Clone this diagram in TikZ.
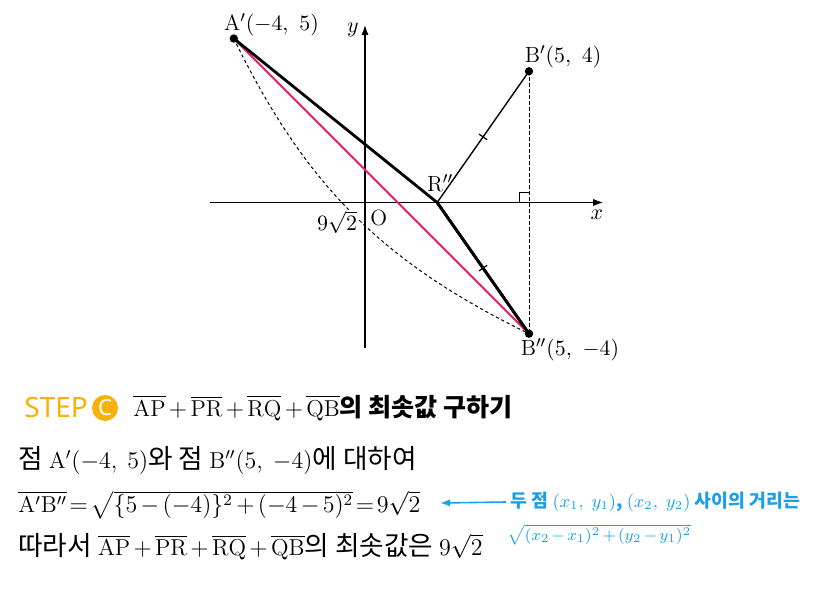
\documentclass[tikz,border=0pt]{standalone}
\usepackage{fontspec}
\usepackage{amsmath}
\usepackage{amssymb}
\usepackage{tikz}
\usetikzlibrary{calc}
\usetikzlibrary{positioning}
\usetikzlibrary{arrows.meta}
\newfontfamily\kr[Scale=1.16]{Noto Sans CJK KR}
\newfontfamily\stepfont{Noto Sans}
\newcommand{\tightmath}{\medmuskip=2.5mu\thickmuskip=2mu}
\newcommand{\tipmath}[1]{{\fontsize{9}{10}\selectfont$#1$}}
\definecolor{stepc}{RGB}{247,178,10}
\definecolor{pinkline}{RGB}{228,30,112}
\definecolor{tipblue}{RGB}{25,160,230}

\begin{document}
\begin{tikzpicture}[x=0.5pt, y=-0.5pt,
		axis/.style={line width=0.6pt, -{Latex[length=5pt,width=3.6pt]}},
		dashpat/.style={line width=0.5pt, dash pattern=on 1.6pt off 1.4pt},
		tick/.style={midway, sloped, inner sep=0pt, minimum size=0pt},
		body/.style={anchor=west, inner sep=0pt, font=\kr\fontsize{11.5}{13}\selectfont\tightmath},
		tiptext/.style={anchor=west, inner sep=0pt, text=tipblue, font=\kr\bfseries\fontsize{7.9}{10}\selectfont\tightmath}]
	\useasboundingbox (0,0) rectangle (827,606);
	
	% coordinate plane
	\begin{scope}[shift={(365,202.5)}, x=16.4pt, y=16.4pt, font=\fontsize{11}{13}\selectfont]
		\coordinate (O) at (0,0);
		\coordinate (Ap) at (-4,5);
		\coordinate (Bp) at (5,4);
		\coordinate (Bpp) at (5,-4);
		\coordinate (Rpp) at (2.2,0);
		\coordinate (F) at (5,0);
		\coordinate (xl) at (-4.73,0);
		\coordinate (xr) at (7.26,0);
		\coordinate (yb) at (0,-4.44);
		\coordinate (yt) at (0,5.41);
		
		\draw[axis] (xl) -- (xr);
		\draw[axis] (yb) -- (yt);
		
		\draw[dashpat] (Ap) to[bend right=19] (Bpp);
		\draw[dashpat] (Bp) -- (Bpp);
		\draw[line width=0.5pt] ($(F)+(-0.3,0)$) |- ($(F)+(0,0.3)$);
		
		\draw[pinkline, line width=1pt] (Ap) -- (Bpp);
		\draw[line width=1.4pt, line join=round] (Ap) -- (Rpp) -- (Bpp);
		\draw[line width=1.4pt] (Rpp) -- (Bpp) node[tick] {\rule{0.6pt}{5pt}};
		\draw[line width=0.7pt] (Rpp) -- (Bp) node[tick] {\rule{0.6pt}{5pt}};
		
		\fill (Ap) circle (2.1pt);
		\fill (Bp) circle (2.1pt);
		\fill (Bpp) circle (2.1pt);
		
		\node[fill=white, inner sep=0.5pt] (root) at (-0.85,-0.6) {$9\sqrt{2}$};
		\node[fill=white, inner sep=0.5pt] (Olab) at (0.42,-0.47) {O};
		\node (xlab) at (7.07,-0.38) {$x$};
		\node (ylab) at (-0.37,5.26) {$y$};
		\node (Rlab) at (2.29,0.59) {R$''$};
		\node (Aplab) at (-2.85,5.43) {A$'(-4,\ 5)$};
		\node (Bplab) at (6.04,4.44) {B$'(5,\ 4)$};
		\node (Bpplab) at (6.25,-4.5) {B$''(5,\ -4)$};
	\end{scope}
	
	% explanation
	\node[anchor=west, inner sep=0pt, text=stepc, font=\stepfont\fontsize{14}{14}\selectfont] (step) at (24,407) {STEP};
	\node[circle, fill=stepc, inner sep=0pt, minimum size=13pt, text=white, font=\stepfont\bfseries\fontsize{11}{11}\selectfont] (stepC) at (105,408) {C};
	\node[body] (head) at (133,408) {$\overline{\mathrm{AP}}+\overline{\mathrm{PR}}+\overline{\mathrm{RQ}}+\overline{\mathrm{QB}}${\fontsize{10.8}{13}\selectfont\bfseries 의 최솟값 구하기}};
	\node[body] (line2) at (18,460) {점 $\mathrm{A}'(-4,\ 5)$와 점 $\mathrm{B}''(5,\ -4)$에 대하여};
	\node[body] (line3) at (18,505) {$\overline{\mathrm{A}'\mathrm{B}''}=\sqrt{\{5-(-4)\}^2+(-4-5)^2}=9\sqrt{2}$};
	\node[body] (line4) at (18,547) {따라서 $\overline{\mathrm{AP}}+\overline{\mathrm{PR}}+\overline{\mathrm{RQ}}+\overline{\mathrm{QB}}$의 최솟값은 $9\sqrt{2}$};
	
	\node[tiptext] (tip) at (510,502) {두 점 \tipmath{(x_1,\ y_1)}, \tipmath{(x_2,\ y_2)} 사이의 거리는};
	\node[tiptext, font=\fontsize{8.5}{10}\selectfont\tightmath] (tipsq) at (507,535) {$\sqrt{(x_2-x_1)^2+(y_2-y_1)^2}$};
	\coordinate (arrtip) at (440,503);
	\draw[tipblue, line width=0.8pt, -{Latex[length=5pt,width=3.6pt]}] ([xshift=-2pt]tip.west) -- (arrtip);
\end{tikzpicture}
\end{document}
